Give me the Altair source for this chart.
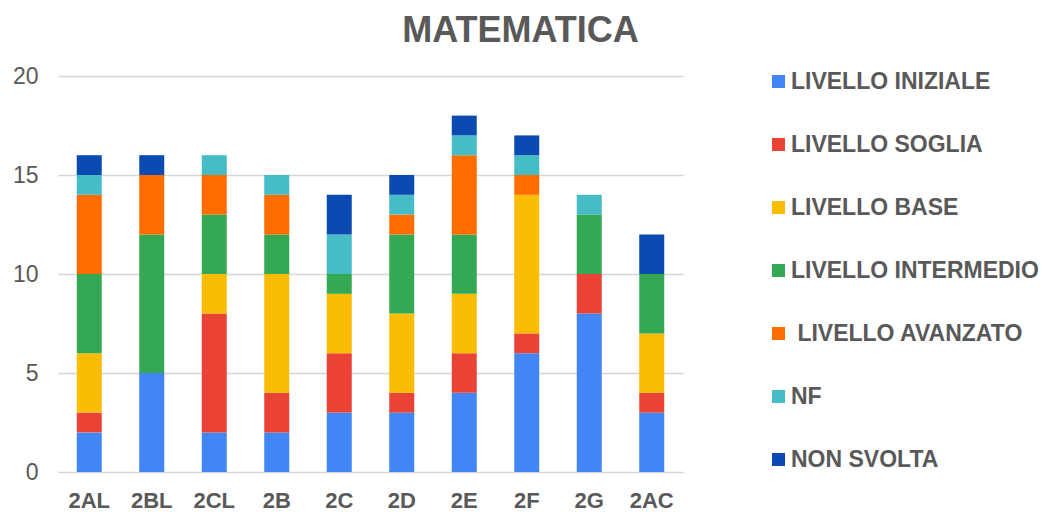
import altair as alt
import pandas as pd

classes = ["2AL", "2BL", "2CL", "2B", "2C", "2D", "2E", "2F", "2G", "2AC"]
series = ["LIVELLO INIZIALE", "LIVELLO SOGLIA", "LIVELLO BASE", "LIVELLO INTERMEDIO",
          "\u200b\u00a0LIVELLO AVANZATO", "NF", "NON SVOLTA"]
colors = ["#4285F4", "#EA4335", "#FBBC04", "#34A853", "#FF6D01", "#46BDC6", "#0B4AB1"]

iniziale =   [2, 5, 2, 2, 3, 3, 4, 6, 8, 3]
soglia =     [1, 0, 6, 2, 3, 1, 2, 1, 2, 1]
base =       [3, 0, 2, 6, 3, 4, 3, 7, 0, 3]
intermedio = [4, 7, 3, 2, 1, 4, 3, 0, 3, 3]
avanzato =   [4, 3, 2, 2, 0, 1, 4, 1, 0, 0]
nf =         [1, 0, 1, 1, 2, 1, 1, 1, 1, 0]
non_svolta = [1, 1, 0, 0, 2, 1, 1, 1, 0, 2]

values = [iniziale, soglia, base, intermedio, avanzato, nf, non_svolta]
rows = []
for si, (name, vals) in enumerate(zip(series, values)):
    for c, v in zip(classes, vals):
        rows.append({"classe": c, "serie": name, "valore": v, "ordine": si})
df = pd.DataFrame(rows)

TXT = "#595959"
FONT = "Liberation Sans"

chart = alt.Chart(df).mark_bar(size=25).encode(
    x=alt.X("classe:N", sort=classes, title=None,
            scale=alt.Scale(paddingInner=0.6, paddingOuter=0.3),
            axis=alt.Axis(labelAngle=0, labelFont=FONT, labelFontSize=22,
                          labelFontWeight="bold", labelColor=TXT, ticks=False,
                          domain=False, labelPadding=18)),
    y=alt.Y("valore:Q", stack="zero", title=None,
            scale=alt.Scale(domain=[0, 20], nice=False),
            axis=alt.Axis(values=[0, 5, 10, 15, 20], labelFont=FONT, labelFontSize=23,
                          labelColor=TXT, ticks=False, domain=False, labelPadding=20,
                          gridColor="#D6D6D6", gridWidth=1.5)),
    color=alt.Color("serie:N", sort=series,
                    scale=alt.Scale(domain=series, range=colors),
                    legend=alt.Legend(title=None, orient="none", legendX=709, legendY=-6,
                                      padding=0, symbolType="square", symbolSize=169,
                                      symbolStrokeWidth=0, labelFont=FONT, labelFontSize=23,
                                      labelFontWeight="bold", labelColor=TXT, labelOffset=1,
                                      rowPadding=39, labelLimit=400)),
    order=alt.Order("ordine:Q", sort="ascending"),
).properties(
    width=625,
    height=396,
    title=alt.TitleParams("MATEMATICA", font=FONT, fontSize=36, fontWeight="bold",
                          color=TXT, anchor="middle", dx=150, offset=15),
    autosize=alt.AutoSizeParams(type="none"),
    padding={"left": 50, "top": 68, "right": 359, "bottom": 44},
).configure_view(stroke=None)

chart.save("out.html", embed_options={"renderer": "svg", "actions": False})
